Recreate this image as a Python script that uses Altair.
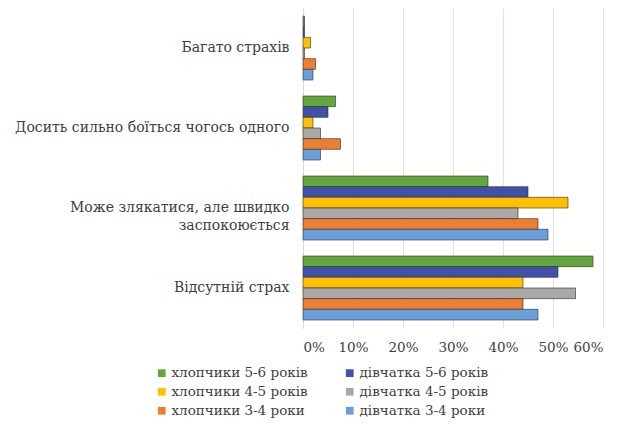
import altair as alt
import pandas as pd

categories = [
    "Багато страхів",
    "Досить сильно боїться чогось одного",
    "Може злякатися, але швидко заспокоюється",
    "Відсутній страх",
]
series = [
    "хлопчики 5-6 років",
    "дівчатка 5-6 років",
    "хлопчики 4-5 років",
    "дівчатка 4-5 років",
    "хлопчики 3-4 роки",
    "дівчатка 3-4 роки",
]
values = {
    "хлопчики 5-6 років": [0.3, 6.5, 37, 58],
    "дівчатка 5-6 років": [0.3, 5, 45, 51],
    "хлопчики 4-5 років": [1.5, 2, 53, 44],
    "дівчатка 4-5 років": [0.3, 3.5, 43, 54.5],
    "хлопчики 3-4 роки": [2.5, 7.5, 47, 44],
    "дівчатка 3-4 роки": [2, 3.5, 49, 47],
}
colors = ["#62a73b", "#4350a8", "#ffc000", "#a8a8a8", "#ed7d31", "#6b9fdc"]
x_ticks = [0, 0.1, 0.2, 0.3, 0.4, 0.5, 0.6]

rows = []
for s in series:
    for c, v in zip(categories, values[s]):
        rows.append({"category": c, "series": s, "value": v / 100})
df = pd.DataFrame(rows)

nb = "\u00a0" * 11
label_expr = (
    "datum.value == 'Може злякатися, але швидко заспокоюється' ? "
    "['Може злякатися, але швидко', 'заспокоюється" + nb + "'] : datum.label"
)

FONT = "DejaVu Serif"

chart = (
    alt.Chart(df)
    .mark_bar(stroke="#2b2b2b", strokeWidth=0.6)
    .encode(
        y=alt.Y(
            "category:N",
            sort=categories,
            title=None,
            scale=alt.Scale(paddingInner=0.2, paddingOuter=0.1),
            axis=alt.Axis(
                labelExpr=label_expr,
                labelFont=FONT,
                labelFontSize=14,
                labelColor="#404040",
                labelPadding=14,
                ticks=False,
                domain=True,
                domainColor="#d9d9d9",
                labelLimit=400,
                labelLineHeight=18,
            ),
        ),
        yOffset=alt.YOffset("series:N", sort=series),
        x=alt.X(
            "value:Q",
            title=None,
            scale=alt.Scale(domain=[0, 0.6]),
            axis=alt.Axis(
                format=".0%",
                values=x_ticks,
                labelFont=FONT,
                labelFontSize=13.5,
                labelColor="#404040",
                labelPadding=12,
                ticks=False,
                domain=False,
                grid=True,
                gridColor="#e3e3e3",
                gridWidth=1.2,
            ),
        ),
        color=alt.Color(
            "series:N",
            sort=series,
            scale=alt.Scale(domain=series, range=colors),
            legend=alt.Legend(
                title=None,
                orient="none",
                legendX=-148,
                legendY=358,
                columns=2,
                direction="horizontal",
                symbolType="square",
                symbolSize=60,
                symbolStrokeWidth=0,
                labelFont=FONT,
                labelFontSize=13.5,
                labelColor="#404040",
                columnPadding=35,
                rowPadding=4,
                labelOffset=3,
            ),
        ),
    )
    .properties(
        width=300,
        height=320,
        autosize=alt.AutoSizeParams(type="none"),
        padding={"left": 295, "top": 0, "right": 15, "bottom": 94},
    )
    .configure_view(stroke=None)
)

chart.save("out.html", embed_options={"renderer": "svg", "actions": False})
